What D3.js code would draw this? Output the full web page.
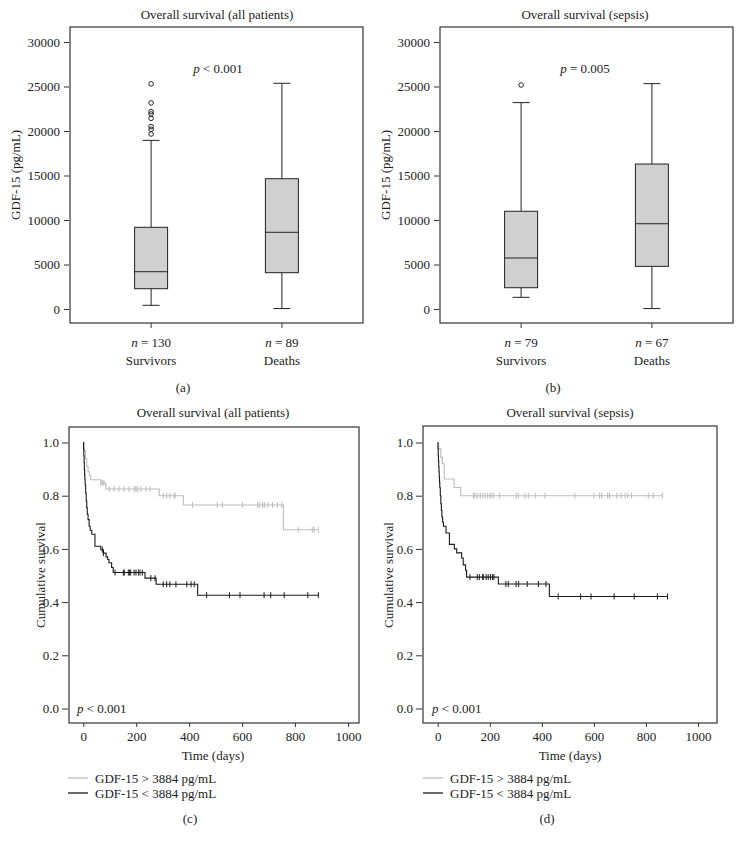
<!DOCTYPE html>
<html>
<head>
<meta charset="utf-8">
<script src="https://cdn.jsdelivr.net/npm/d3@7"></script>
<style>
  body { margin: 0; background: #fff; }
  svg { display: block; }
  text { font-family: "Liberation Serif", "DejaVu Serif", serif; fill: #222; }
</style>
</head>
<body>
<svg id="chart" width="740" height="845"></svg>
<script>
// ---- box plot data (GDF-15, pg/mL) ----
const boxGroups = ["Survivors", "Deaths"];
const countsAll = [130, 89];
const countsSepsis = [79, 67];
// [whisker low, q1, median, q3, whisker high]
const statsAllSurv = [415, 2280, 4190, 9180, 18950];
const statsAllDeath = [50, 4080, 8620, 14640, 25360];
const statsSepSurv = [1310, 2390, 5730, 10980, 23190];
const statsSepDeath = [50, 4790, 9580, 16290, 25320];
const outliersAllSurv = [19660, 20190, 20490, 21420, 21910, 22170, 23150, 25300];
const outliersSepSurv = [25170];
const boxTicks = [0, 5000, 10000, 15000, 20000, 25000, 30000];

// ---- Kaplan-Meier data (step times in days, survival after step) ----
const kmTicksX = [0, 200, 400, 600, 800, 1000];
const kmTicksY = [0, 0.2, 0.4, 0.6, 0.8, 1.0];

const allHighT = [0, 3, 8, 13, 18, 23, 28, 66, 85, 287, 378, 756];
const allHighS = [1.0, 0.97, 0.94, 0.91, 0.89, 0.875, 0.86, 0.848, 0.825, 0.80, 0.765, 0.672];
const allHighCens = [66, 72, 78, 98, 116, 135, 154, 173, 192, 199, 205, 218, 237, 252, 302, 315, 327, 343, 347, 413, 506, 525, 602, 659, 665, 677, 684, 697, 715, 734, 750, 812, 865, 872, 888];

const allLowT = [0, 1, 2, 3, 4, 5, 6, 7, 9, 11, 13, 15, 18, 22, 26, 32, 44, 66, 76, 86, 92, 97, 107, 113, 233, 275, 432];
const allLowS = [1.0, 0.975, 0.95, 0.925, 0.90, 0.88, 0.86, 0.84, 0.81, 0.78, 0.755, 0.73, 0.71, 0.685, 0.67, 0.655, 0.61, 0.597, 0.584, 0.57, 0.56, 0.548, 0.53, 0.511, 0.49, 0.467, 0.426];
const allLowCens = [72, 76, 120, 151, 155, 170, 174, 179, 192, 199, 208, 214, 223, 255, 271, 302, 315, 327, 350, 391, 407, 419, 466, 552, 592, 683, 708, 759, 848, 888];

const sepHighT = [0, 4, 12, 18, 25, 63, 88];
const sepHighS = [1.0, 0.977, 0.944, 0.92, 0.863, 0.831, 0.80];
const sepHighCens = [137, 143, 152, 163, 173, 182, 192, 201, 207, 216, 237, 301, 310, 335, 348, 374, 412, 527, 600, 621, 630, 653, 660, 688, 704, 720, 730, 745, 809, 828, 864];

const sepLowT = [0, 1, 2, 3, 4, 5, 6, 7, 8, 10, 12, 14, 16, 19, 22, 32, 45, 64, 73, 92, 98, 107, 111, 233, 429];
const sepLowS = [1.0, 0.975, 0.95, 0.93, 0.91, 0.89, 0.87, 0.85, 0.83, 0.80, 0.77, 0.745, 0.72, 0.70, 0.685, 0.66, 0.617, 0.60, 0.585, 0.566, 0.54, 0.52, 0.494, 0.468, 0.421];
const sepLowCens = [124, 152, 160, 173, 175, 186, 194, 203, 211, 216, 262, 271, 301, 311, 344, 387, 416, 463, 549, 589, 678, 755, 844, 883];

const legendLabels = ["GDF-15 > 3884 pg/mL", "GDF-15 < 3884 pg/mL"];
const colHigh = "#bcbcbc", colLow = "#1a1a1a";

const svg = d3.select("#chart");

//draws one box plot panel
function draw_box_panel(p) {
  const g = svg.append("g");
  const y = d3.scaleLinear().domain([0, 30000]).range([309, 42]);
  const x = d3.scalePoint().domain(boxGroups).range([p.left, p.right]).padding(0.62);
  const bw = 33, cap = 17;

  g.append("text").attr("x", p.titleX).attr("y", 14).attr("text-anchor", "middle")
    .attr("dominant-baseline", "central").attr("font-size", 13).text(p.title);

  //y axis
  const ya = g.append("g").attr("transform", "translate(" + (p.left - 1) + ",0)")
    .call(d3.axisLeft(y).tickValues(boxTicks).tickSize(5).tickPadding(4).tickFormat(d3.format("d")));
  ya.select(".domain").remove();
  ya.selectAll("line").attr("stroke", "#333");
  ya.selectAll("text").attr("font-size", 13).attr("font-family", "Liberation Serif").attr("fill", "#222");

  //x ticks below frame
  g.selectAll(".xt").data(boxGroups).join("line")
    .attr("x1", d => x(d)).attr("x2", d => x(d)).attr("y1", 323).attr("y2", 328).attr("stroke", "#333");
  g.selectAll(".nlab").data(boxGroups).join("text")
    .attr("x", d => x(d)).attr("y", 342).attr("text-anchor", "middle").attr("dominant-baseline", "central")
    .attr("font-size", 13)
    .each(function(d, i) {
      const t = d3.select(this);
      t.append("tspan").attr("font-style", "italic").text("n");
      t.append("tspan").text(" = " + p.counts[i]);
    });
  g.selectAll(".glab").data(boxGroups).join("text")
    .attr("x", d => x(d)).attr("y", 360).attr("text-anchor", "middle").attr("dominant-baseline", "central")
    .attr("font-size", 13).text(d => d);

  //boxes
  p.stats.forEach(function(s, i) {
    const cx = x(boxGroups[i]);
    g.append("line").attr("x1", cx).attr("x2", cx).attr("y1", y(s[0])).attr("y2", y(s[1])).attr("stroke", "#222");
    g.append("line").attr("x1", cx).attr("x2", cx).attr("y1", y(s[3])).attr("y2", y(s[4])).attr("stroke", "#222");
    g.append("line").attr("x1", cx - cap/2).attr("x2", cx + cap/2).attr("y1", y(s[0])).attr("y2", y(s[0])).attr("stroke", "#222");
    g.append("line").attr("x1", cx - cap/2).attr("x2", cx + cap/2).attr("y1", y(s[4])).attr("y2", y(s[4])).attr("stroke", "#222");
    g.append("rect").attr("x", cx - bw/2).attr("width", bw).attr("y", y(s[3])).attr("height", y(s[1]) - y(s[3]))
      .attr("fill", "#d0d0d0").attr("stroke", "#222");
    g.append("line").attr("x1", cx - bw/2).attr("x2", cx + bw/2).attr("y1", y(s[2])).attr("y2", y(s[2])).attr("stroke", "#222");
    g.selectAll(null).data(p.outliers[i]).join("circle")
      .attr("cx", cx).attr("cy", d => y(d)).attr("r", 2.3).attr("fill", "none").attr("stroke", "#222").attr("stroke-width", 1);
  });

  //p value
  const pt = g.append("text").attr("x", p.pX).attr("y", 68).attr("text-anchor", "middle")
    .attr("dominant-baseline", "central").attr("font-size", 13);
  pt.append("tspan").attr("font-style", "italic").text("p");
  pt.append("tspan").text(p.pText);

  //axis label
  g.append("text").attr("transform", "translate(" + p.labX + ",175) rotate(-90)").attr("text-anchor", "middle")
    .attr("dominant-baseline", "central").attr("font-size", 13).text("GDF-15 (pg/mL)");

  //frame
  g.append("rect").attr("x", p.left).attr("y", 27).attr("width", p.right - p.left).attr("height", 296)
    .attr("fill", "none").attr("stroke", "#333").attr("stroke-width", 1.2);

  g.append("text").attr("x", p.capX).attr("y", 387).attr("text-anchor", "middle")
    .attr("dominant-baseline", "central").attr("font-size", 13).text(p.caption);
}

//survival at time t from step arrays
function surv_at(T, S, t) {
  let s = S[0];
  for (let i = 0; i < T.length; ++i) if (T[i] <= t) s = S[i];
  return s;
}

//draws one Kaplan-Meier panel
function draw_km_panel(p) {
  const g = svg.append("g");
  const x = d3.scaleLinear().domain([0, 1000]).range([p.x0, p.x1000]);
  const y = d3.scaleLinear().domain([0, 1]).range([708.5, 442.5]);

  g.append("text").attr("x", p.titleX).attr("y", 412).attr("text-anchor", "middle")
    .attr("dominant-baseline", "central").attr("font-size", 13).text(p.title);

  const ya = g.append("g").attr("transform", "translate(" + (p.left - 1) + ",0)")
    .call(d3.axisLeft(y).tickValues(kmTicksY).tickSize(6).tickPadding(3).tickFormat(d3.format(".1f")));
  ya.select(".domain").remove();
  ya.selectAll("line").attr("stroke", "#333");
  ya.selectAll("text").attr("font-size", 13).attr("font-family", "Liberation Serif").attr("fill", "#222");

  const xa = g.append("g").attr("transform", "translate(0,723)")
    .call(d3.axisBottom(x).tickValues(kmTicksX).tickSize(4).tickPadding(5).tickFormat(d3.format("d")));
  xa.select(".domain").remove();
  xa.selectAll("line").attr("stroke", "#333");
  xa.selectAll("text").attr("font-size", 13).attr("font-family", "Liberation Serif").attr("fill", "#222");

  g.append("text").attr("x", p.timeX).attr("y", 755).attr("text-anchor", "middle")
    .attr("dominant-baseline", "central").attr("font-size", 13).text("Time (days)");
  g.append("text").attr("transform", "translate(" + p.labX + ",575) rotate(-90)").attr("text-anchor", "middle")
    .attr("dominant-baseline", "central").attr("font-size", 13).text("Cumulative survival");

  const line = d3.line().x(d => x(d[0])).y(d => y(d[1])).curve(d3.curveStepAfter);
  p.series.forEach(function(s) {
    const pts = s.T.map((t, i) => [t, s.S[i]]);
    pts.push([d3.max(s.cens), s.S[s.S.length - 1]]);
    g.append("path").attr("d", line(pts)).attr("fill", "none").attr("stroke", s.color).attr("stroke-width", 1.1);
    g.selectAll(null).data(s.cens).join("line")
      .attr("x1", d => x(d)).attr("x2", d => x(d))
      .attr("y1", d => y(surv_at(s.T, s.S, d)) - 3).attr("y2", d => y(surv_at(s.T, s.S, d)) + 3)
      .attr("stroke", s.color).attr("stroke-width", 1);
  });

  const pt = g.append("text").attr("x", p.pX).attr("y", 708).attr("dominant-baseline", "central").attr("font-size", 13);
  pt.append("tspan").attr("font-style", "italic").text("p");
  pt.append("tspan").text(" < 0.001");

  g.append("rect").attr("x", p.left).attr("y", p.top).attr("width", p.right - p.left).attr("height", 723 - p.top)
    .attr("fill", "none").attr("stroke", "#333").attr("stroke-width", 1.2);

  //legend
  legendLabels.forEach(function(lab, i) {
    const ly = 778 + i * 15;
    g.append("line").attr("x1", p.legX).attr("x2", p.legX + 20).attr("y1", ly).attr("y2", ly)
      .attr("stroke", i === 0 ? colHigh : colLow).attr("stroke-width", 1.3);
    g.append("text").attr("x", p.legX + 27).attr("y", ly).attr("dominant-baseline", "central")
      .attr("font-size", 13).text(lab);
  });

  g.append("text").attr("x", p.capX).attr("y", 818).attr("text-anchor", "middle")
    .attr("dominant-baseline", "central").attr("font-size", 13).text(p.caption);
}

draw_box_panel({left: 70, right: 363, title: "Overall survival (all patients)", titleX: 217,
  counts: countsAll, stats: [statsAllSurv, statsAllDeath], outliers: [outliersAllSurv, []],
  pX: 218, pText: " < 0.001", labX: 15, capX: 183, caption: "(a)"});
draw_box_panel({left: 440, right: 733, title: "Overall survival (sepsis)", titleX: 585,
  counts: countsSepsis, stats: [statsSepSurv, statsSepDeath], outliers: [outliersSepSurv, []],
  pX: 585, pText: " = 0.005", labX: 385, capX: 553, caption: "(b)"});

draw_km_panel({left: 69, right: 359, top: 427, x0: 83.3, x1000: 348, title: "Overall survival (all patients)",
  titleX: 213, timeX: 213, labX: 40, pX: 77, legX: 68, capX: 190, caption: "(c)",
  series: [{T: allHighT, S: allHighS, cens: allHighCens, color: colHigh},
           {T: allLowT, S: allLowS, cens: allLowCens, color: colLow}]});
draw_km_panel({left: 423, right: 717, top: 426, x0: 437.7, x1000: 698, title: "Overall survival (sepsis)",
  titleX: 570, timeX: 570, labX: 388, pX: 432, legX: 423, capX: 547, caption: "(d)",
  series: [{T: sepHighT, S: sepHighS, cens: sepHighCens, color: colHigh},
           {T: sepLowT, S: sepLowS, cens: sepLowCens, color: colLow}]});
</script>
</body>
</html>
